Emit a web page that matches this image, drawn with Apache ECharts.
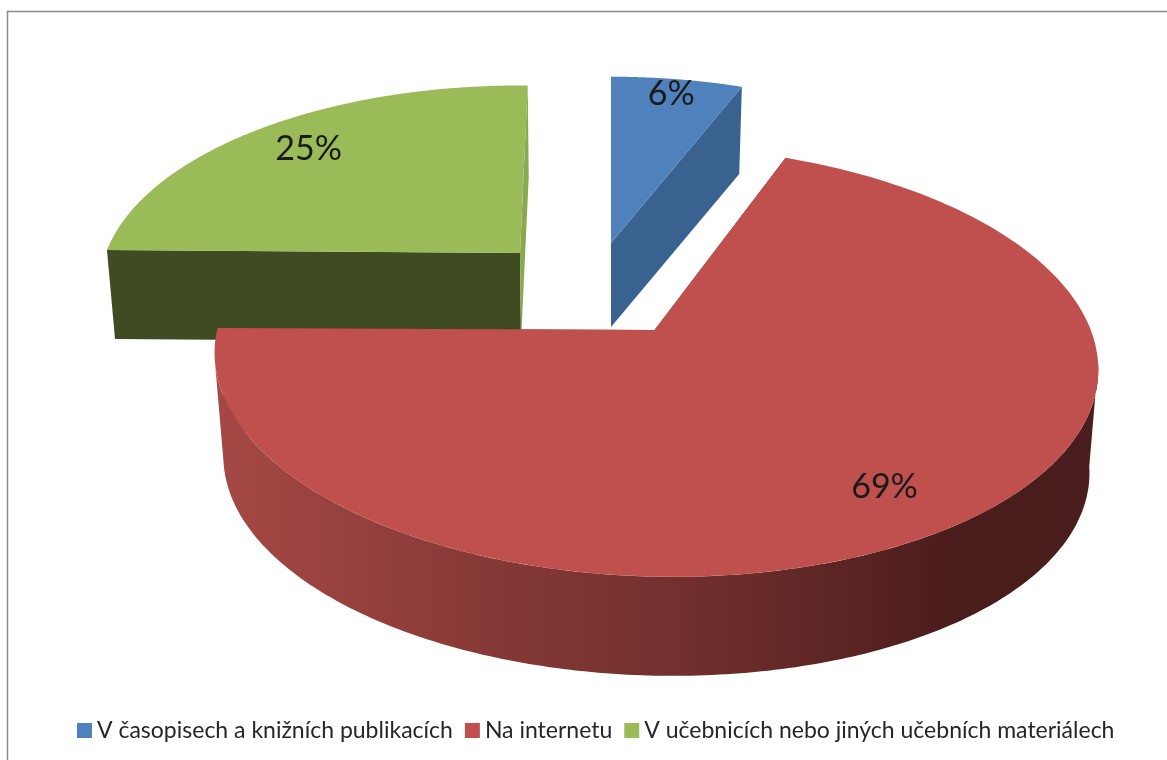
<!DOCTYPE html>
<html><head><meta charset="utf-8">
<style>html,body{margin:0;padding:0;background:#fff}#c{width:1167px;height:760px}</style>
<script src="https://cdn.jsdelivr.net/npm/echarts@6/dist/echarts.min.js"></script>
</head><body><div id="c"></div>
<script>
const categories = ['V časopisech a knižních publikacích', 'Na internetu', 'V učebnicích nebo jiných učebních materiálech'];
const values = [6, 69, 25];
const labels = ['6%', '69%', '25%'];
const colors = ['#4F81BD', '#C0504D', '#9BBB59'];

// Presentation of each exploded slice in the tilted view (layout only)
const redWall = {type:'linear',x:219,y:0,x2:1090,y2:0,global:true,colorStops:[{offset:0,color:'#A54845'},{offset:.25,color:'#8C3C39'},{offset:.6,color:'#6A2C2A'},{offset:.85,color:'#4A1C1C'},{offset:1,color:'#4A1E1E'}]};
const views = [
  {k:.165,ba:.4725,cx:611,cy:243,a:410,skew:0,tilt:0, bx:611,by:327,bs:.98, lr:.9,  wall:'#3A6290', endWall:'#3A6290', order:1},
  {k:.145,ba:.4828,cx:654.5,cy:330,a:437,skew:13,tilt:2, bx:654.5,by:434,bs:.98, lr:.81, wall:redWall, endWall:'#7A3230', order:2},
  {k:.165,ba:.4725,cx:520,cy:253,a:413,skew:-9,tilt:3, bx:521,by:342,bs:.983, lr:.81, wall:'#3F4B23', endWall:'#8AA84F', order:0}
];
const total = values.reduce((s, v) => s + v, 0);
const startOf = i => values.slice(0, i).reduce((s, v) => s + v, 0) / total * Math.PI * 2;

function project(w, ox, oy, a, ang, r) {
  const u = Math.sin(ang) * r, v = -Math.cos(ang) * r, d = 1 - w.k * v;
  return [ox + (a * u + w.skew * v) / d, oy + (a * w.ba * v) / d + w.tilt * u];
}
function arc(w, ox, oy, a, s, e) {
  const pts = [], n = 200;
  for (let j = 0; j <= n; j++) pts.push(project(w, ox, oy, a, s + (e - s) * j / n, 1));
  return pts;
}
function renderSlice(params, api) {
  const i = api.value(0), val = api.value(1), w = views[i];
  const s = startOf(i), e = s + val / total * Math.PI * 2;
  const top = arc(w, w.cx, w.cy, w.a, s, e);
  const topApex = [w.cx, w.cy], botApex = [w.bx, w.by];
  const endTop = top[top.length-1];
  const poly = (points, fill) => ({type:'polygon', shape:{points}, style:{fill}});
  const mid = (s + e) / 2, lp = project(w, w.cx, w.cy, w.a, mid, w.lr);
  const bot0 = project(w, w.bx, w.by, w.a * w.bs, s, 1), bot1 = project(w, w.bx, w.by, w.a * w.bs, e, 1);
  const kids = [];
  // the two cut faces
  kids.push(poly([topApex, top[0], bot0, botApex], i === 1 ? w.endWall : w.wall));
  kids.push(poly([topApex, endTop, bot1, botApex], w.endWall));
  // the curved outer face, only the part that looks at the viewer
  const f0 = Math.max(s, Math.acos(-w.k)), f1 = Math.min(e, Math.PI * 2 - Math.acos(-w.k));
  if (f1 > f0) {
    const a1 = arc(w, w.cx, w.cy, w.a, f0, f1);
    const a2 = arc(w, w.bx, w.by, w.a * w.bs, f0, f1);
    kids.push(poly(a1.concat(a2.reverse()), w.wall));
  }
  kids.push(poly([topApex].concat(top), colors[i]));
  kids.push({type:'text', x:lp[0], y:lp[1], style:{text:labels[i], fill:'#1a1a1a', font:'34px Lato, "Open Sans", sans-serif', align:'center', verticalAlign:'middle'}});
  return {type:'group', children:kids};
}
const series = categories.map((name, i) => ({
  name, type:'custom', coordinateSystem:'none', silent:true, animation:false,
  z: views[i].order + 2,
  itemStyle:{color:colors[i]},
  data:[[i, values[i]]],
  renderItem: renderSlice
}));
const chart = echarts.init(document.getElementById('c'), null, {renderer:'canvas'});
chart.setOption({
  backgroundColor:'#fff', animation:false,
  legend:{
    left:72, top:714, itemWidth:15, itemHeight:15, itemGap:12, icon:'rect', selectedMode:false,
    textStyle:{fontFamily:'Lato, "Open Sans", sans-serif', fontSize:23, color:'#262626'},
    data:categories
  },
  graphic:[{type:'polyline', silent:true, shape:{points:[[7.5,760],[7.5,11.5],[1167,11.5]]}, style:{stroke:'#8a8a8a', lineWidth:1.5, fill:null}}],
  series
});
</script></body></html>
